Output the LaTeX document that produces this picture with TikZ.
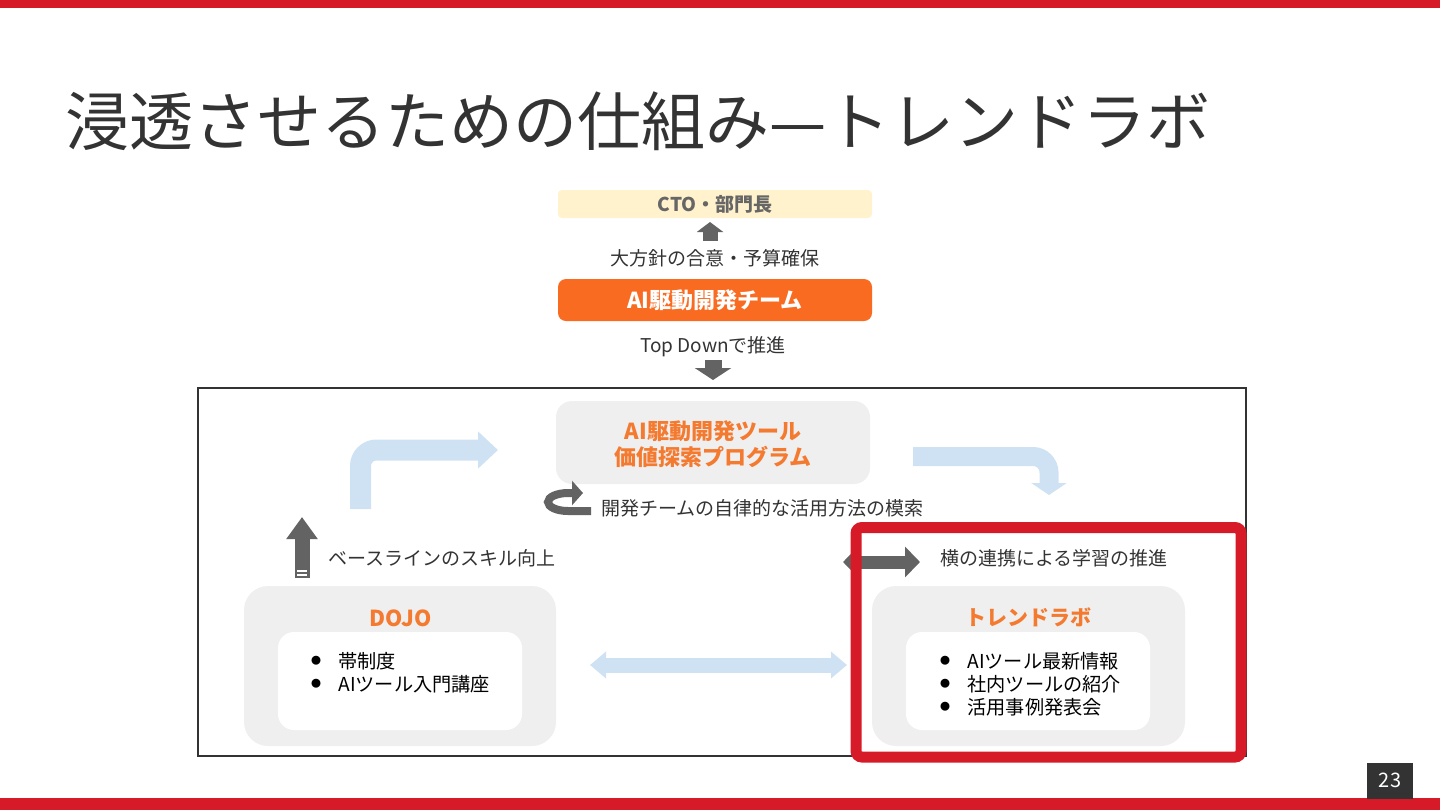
\documentclass[tikz,border=0pt]{standalone}
\usepackage{fontspec}
\setmainfont{Noto Sans CJK JP}
\usetikzlibrary{arrows.meta}
\definecolor{slidered}{HTML}{D71A28}
\definecolor{txt}{HTML}{333333}
\definecolor{boxgray}{HTML}{EFEFEF}
\definecolor{lblue}{HTML}{CFE2F3}
\definecolor{dgray}{HTML}{636363}
\definecolor{orng}{HTML}{F96B21}
\definecolor{orngtxt}{HTML}{F47A30}
\definecolor{cream}{HTML}{FFF2CC}
\definecolor{ctotxt}{HTML}{666666}
\begin{document}
\begin{tikzpicture}[x=0.5pt,y=-0.5pt,
  lbl/.style={font=\fontsize{9.5}{11}\selectfont, text=txt, inner sep=0pt},
  boxtitle/.style={font=\fontsize{11}{13}\selectfont\bfseries, text=orngtxt, inner sep=0pt, align=center},
  panel/.style={fill=boxgray, rounded corners=12pt, inner sep=0pt},
  innerbox/.style={fill=white, rounded corners=8pt, inner sep=0pt},
  bulletdot/.style={font=\fontsize{5}{6}\selectfont, text=black, inner sep=0pt},
  itemtxt/.style={font=\fontsize{9.6}{11}\selectfont, text=black, inner sep=0pt, anchor=west},
  blockarrow/.style={line cap=butt},
]
\useasboundingbox (0,0) rectangle (1440,810);
% bars
\fill[slidered] (0,0) rectangle (1440,8);
\fill[slidered] (0,798) rectangle (1440,810);
\node[fill=txt, minimum width=23pt, minimum height=18pt, inner sep=0pt, text=white,
  font=\fontsize{10}{12}\selectfont] (pg) at (1390,780.5) {23};
% title
\node[anchor=west, inner sep=0pt, text=txt, font=\fontsize{32}{38}\selectfont] (title) at (65,121)
  {浸透させるための仕組み—トレンドラボ};
% top chain
\node[fill=cream, rounded corners=2pt, minimum width=157pt, minimum height=14pt, inner sep=0pt,
  text=ctotxt, font=\fontsize{9.5}{11}\selectfont\bfseries] (cto) at (715,204) {CTO・部門長};
\node[lbl] (goal) at (715,258) {大方針の合意・予算確保};
\node[fill=orng, rounded corners=4pt, minimum width=157pt, minimum height=21pt, inner sep=0pt,
  text=white, font=\fontsize{11}{13}\selectfont\bfseries] (team) at (715,300) {AI駆動開発チーム};
\node[lbl] (td) at (713,347) {Top Downで推進};
\coordinate (upA) at (710,241);
\coordinate (upB) at (710,222);
\draw[dgray, line width=7.5pt, blockarrow, -{Triangle[length=5pt,width=13pt]}] (upA) -- (upB);
\coordinate (dnA) at (713,360);
\coordinate (dnB) at (713,380);
\draw[dgray, line width=8.5pt, blockarrow, -{Triangle[length=6pt,width=18pt]}] (dnA) -- (dnB);
% frame
\draw[draw=txt, line width=0.8pt] (198,388) rectangle (1246,756);
% program box
\node[panel, rounded corners=8pt, minimum width=157pt, minimum height=41.5pt] (prog) at (713,442.5) {};
\node[boxtitle, font=\fontsize{11}{13}\selectfont\bfseries] (progt) at (713,444) {AI駆動開発ツール\\価値探索プログラム};
% blue bent arrows
\coordinate (b1s) at (360.5,509);
\coordinate (b1c) at (360.5,450);
\coordinate (b1e) at (498,450);
\draw[lblue, line width=10.5pt, blockarrow, rounded corners=8pt, -{Triangle[length=10pt,width=18pt]}]
  (b1s) -- (b1c) -- (b1e);
\coordinate (b2s) at (913,456.5);
\coordinate (b2c) at (1049,456.5);
\coordinate (b2e) at (1049,495);
\draw[lblue, line width=9.5pt, blockarrow, rounded corners=8pt, -{Triangle[length=6pt,width=17.5pt]}]
  (b2s) -- (b2c) -- (b2e);
% circular arrow
\coordinate (cA) at (591,511);
\coordinate (cB) at (568,511);
\coordinate (cC) at (583,493);
\draw[dgray, line width=4pt, blockarrow, -{Triangle[length=5.5pt,width=12pt]}]
  (cA) -- (cB) arc[start angle=90, end angle=270, x radius=20, y radius=9] -- (cC);
\node[lbl, anchor=west] (auto) at (601,508) {開発チームの自律的な活用方法の模索};
% DOJO up arrow
\coordinate (d1) at (302,578);
\coordinate (d2) at (302,517);
\draw[dgray, line width=7.5pt, blockarrow, -{Triangle[length=11pt,width=15pt]}] (d1) -- (d2);
\draw[white, line width=0.6pt] (297,571) -- (307,571);
\draw[white, line width=0.6pt] (297,575) -- (307,575);
\node[lbl, anchor=west] (base) at (328,558) {ベースラインのスキル向上};
% DOJO panel
\node[panel, minimum width=156pt, minimum height=80pt] (dojo) at (400,666) {};
\node[boxtitle] (dojot) at (401,618) {DOJO};
\node[innerbox, minimum width=122pt, minimum height=49pt] (dojoin) at (400,681) {};
\node[bulletdot] (db1) at (316,661) {●};
\node[itemtxt] (di1) at (338,661) {帯制度};
\node[bulletdot] (db2) at (316,684) {●};
\node[itemtxt] (di2) at (338,684) {AIツール入門講座};
% trend panel
\node[panel, minimum width=156.5pt, minimum height=80pt] (trend) at (1028.5,666) {};
\node[boxtitle, font=\fontsize{10.5}{12}\selectfont\bfseries] (trendt) at (1028,617) {トレンドラボ};
\node[innerbox, minimum width=122pt, minimum height=49pt] (trendin) at (1028,681) {};
\node[bulletdot] (tb1) at (945,661) {●};
\node[itemtxt] (ti1) at (967,661) {AIツール最新情報};
\node[bulletdot] (tb2) at (945,684) {●};
\node[itemtxt] (ti2) at (967,684) {社内ツールの紹介};
\node[bulletdot] (tb3) at (945,707) {●};
\node[itemtxt] (ti3) at (967,707) {活用事例発表会};
% blue double arrow
\coordinate (h1) at (590,665);
\coordinate (h2) at (847,665);
\draw[lblue, line width=7.5pt, blockarrow, {Triangle[length=8pt,width=13pt]}-{Triangle[length=8pt,width=13pt]}] (h1) -- (h2);
% dark double arrow
\coordinate (k1) at (843,562);
\coordinate (k2) at (920,562);
\draw[dgray, line width=6.5pt, blockarrow, {Triangle[length=7.5pt,width=15pt]}-{Triangle[length=7.5pt,width=15pt]}] (k1) -- (k2);
\node[lbl, anchor=west] (yoko) at (940,558) {横の連携による学習の推進};
% red highlight
\draw[slidered, line width=5.5pt, rounded corners=3pt] (856,527.5) rectangle (1241,757);
\end{tikzpicture}
\end{document}
